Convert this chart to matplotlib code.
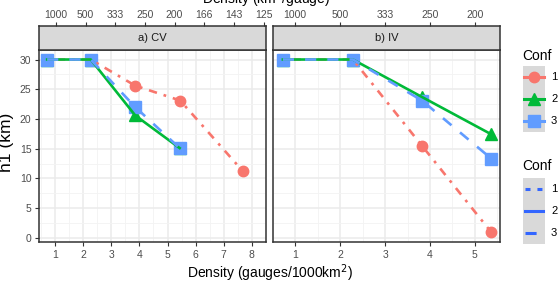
import matplotlib
matplotlib.use("Agg")
import matplotlib.pyplot as plt
from matplotlib.patches import Rectangle
from matplotlib.lines import Line2D

plt.rcParams['font.family'] = ['Liberation Sans', 'DejaVu Sans']
plt.rcParams['lines.scale_dashes'] = False

# ---------------- data ----------------
panels = ["a) CV", "b) IV"]
confs = ["1", "2", "3"]

cv_density_1 = [0.72, 2.27, 3.85, 5.45, 7.68]
cv_h1_1 = [30, 30, 25.6, 23.1, 11.2]
cv_density_2 = [0.72, 2.27, 3.85, 5.43]
cv_h1_2 = [30, 30, 20.6, 15.1]
cv_density_3 = [0.72, 2.27, 3.85, 5.43]
cv_h1_3 = [30, 30, 22.0, 15.1]

iv_density = [0.72, 2.28, 3.82, 5.37]
iv_h1_1 = [30, 30, 15.5, 0.9]
iv_h1_2 = [30, 30, 23.7, 17.4]
iv_h1_3 = [30, 30, 23.1, 13.3]

top_ticks_cv = [1, 2, 3, 4, 5, 6, 7, 8]
top_labels_cv = ["1000", "500", "333", "250", "200", "166", "143", "125"]
top_ticks_iv = [1, 2, 3, 4, 5]
top_labels_iv = ["1000", "500", "333", "250", "200"]
y_ticks = [0, 5, 10, 15, 20, 25, 30]

# ---------------- style ----------------
colors = {"1": "#F8766D", "2": "#00BA38", "3": "#619CFF"}
markers = {"1": "o", "2": "^", "3": "s"}
msizes = {"1": 7.5, "2": 8.5, "3": 9}
dashes = {"1": (2, 5, 6, 5), "2": None, "3": (8, 8)}
smooth_blue = "#3366FF"
grey20 = "#333333"
grey30 = "#4D4D4D"

W, H = 560, 286
fig = plt.figure(figsize=(W / 100, H / 100), dpi=100)


def px_axes(x0, y0, x1, y1, **kw):
    return fig.add_axes([x0 / W, 1 - y1 / H, (x1 - x0) / W, (y1 - y0) / H], **kw)


panel_px = [(39, 266), (273, 500)]
xlims = [(0.43, 8.08), (0.51, 5.56)]
ylim = (-0.7, 31.6)

data = [
    [(cv_density_1, cv_h1_1), (cv_density_2, cv_h1_2), (cv_density_3, cv_h1_3)],
    [(iv_density, iv_h1_1), (iv_density, iv_h1_2), (iv_density, iv_h1_3)],
]
top = [(top_ticks_cv, top_labels_cv), (top_ticks_iv, top_labels_iv)]

for i, (x0, x1) in enumerate(panel_px):
    ax = px_axes(x0, 50, x1, 242)
    ax.set_xlim(*xlims[i])
    ax.set_ylim(*ylim)
    nmax = int(xlims[i][1])
    ax.set_xticks(list(range(1, nmax + 1)))
    ax.set_xticks([k + 0.5 for k in range(0, nmax + 1)], minor=True)
    ax.set_yticks(y_ticks)
    ax.set_yticks([2.5, 7.5, 12.5, 17.5, 22.5, 27.5], minor=True)
    ax.grid(True, which="major", color="#EBEBEB", lw=1.1)
    ax.grid(True, which="minor", color="#F3F3F3", lw=0.6)
    ax.set_axisbelow(True)
    for s in ax.spines.values():
        s.set_color(grey20)
        s.set_linewidth(1.1)
    ax.tick_params(which="major", length=3, width=0.8, color=grey20,
                   labelsize=7.5, labelcolor=grey30, pad=2.5)
    ax.tick_params(which="minor", length=0)
    if i == 1:
        ax.tick_params(axis="y", which="both", left=False, labelleft=False)
    for j, c in enumerate(confs):
        xs, ys = data[i][j]
        ax.plot(xs, ys, ls="none", marker=markers[c], ms=msizes[c],
                color=colors[c], zorder=3 + j)
    for j, c in enumerate(confs):
        xs, ys = data[i][j]
        ln, = ax.plot(xs, ys, color=colors[c], lw=1.9, zorder=6)
        if dashes[c] is not None:
            ln.set_dashes(dashes[c])

    # strip with top secondary axis
    st = px_axes(x0, 26, x1, 50)
    st.set_xlim(*xlims[i])
    st.set_ylim(0, 1)
    st.set_facecolor("#D9D9D9")
    for s in st.spines.values():
        s.set_color(grey20)
        s.set_linewidth(1.1)
    st.set_yticks([])
    st.xaxis.tick_top()
    st.set_xticks(top[i][0])
    st.set_xticklabels(top[i][1])
    st.tick_params(axis="x", length=3, width=0.8, color=grey20,
                   labelsize=7.5, labelcolor=grey30, pad=1)
    st.text(0.5, 0.5, panels[i], transform=st.transAxes, ha="center",
            va="center", fontsize=8, color="#1A1A1A")

# axis titles
fig.text(269.5 / W, 1 - 273 / H, "Density (gauges/1000km$^2$)", ha="center",
         va="center", fontsize=10)
fig.text(266 / W, 1 - 3.5 / H, "Density (km$^2$/gauge)", ha="center",
         va="baseline", fontsize=10)
fig.text(7 / W, 1 - 142 / H, "h1 (km)", ha="center", va="center",
         rotation=90, fontsize=12.5)

# legends (drawn in pixel coordinates)
lg = fig.add_axes([0, 0, 1, 1])
lg.set_xlim(0, W)
lg.set_ylim(H, 0)
lg.axis("off")
lg.patch.set_visible(False)

lg.text(522, 56, "Conf", fontsize=10, va="center", ha="left")
lg.add_patch(Rectangle((523, 66), 22, 66, color="#D9D9D9", lw=0))
for k, c in enumerate(confs):
    yc = 77 + 22 * k
    lg.add_line(Line2D([524, 544], [yc, yc], color=colors[c], lw=2.2))
    lg.plot([534], [yc], marker=markers[c], ms=msizes[c], color=colors[c])
    lg.text(551, yc, c, fontsize=8, va="center", ha="left")

lg.text(522, 166, "Conf", fontsize=10, va="center", ha="left")
lg.add_patch(Rectangle((523, 178), 22, 66, color="#D9D9D9", lw=0))
for k, c in enumerate(confs):
    yc = 189 + 22 * k
    ln = Line2D([525, 543], [yc, yc], color=smooth_blue, lw=2.2)
    if c == "1":
        ln.set_dashes((3.6, 5))
    elif c == "3":
        ln.set_dashes((8, 8))
    lg.add_line(ln)
    lg.text(551, yc, c, fontsize=8, va="center", ha="left")

fig.savefig("out.png", dpi=100)
